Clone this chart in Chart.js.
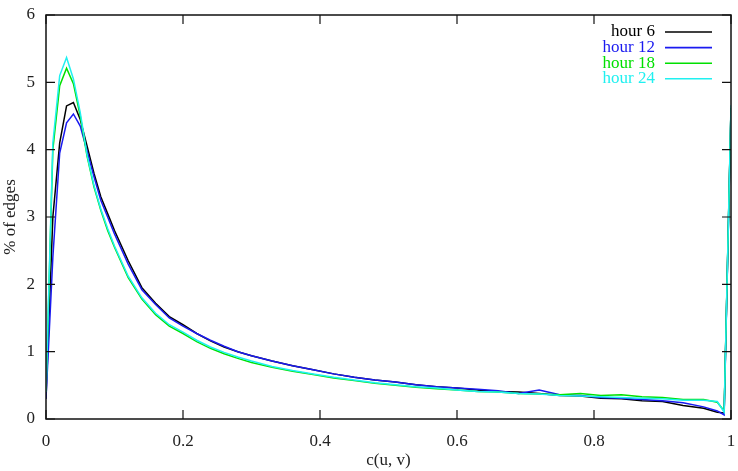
<!DOCTYPE html>
<html>
<head>
<meta charset="utf-8">
<script src="https://cdn.jsdelivr.net/npm/chart.js@4.4.1/dist/chart.umd.min.js"></script>
<style>
  html, body { margin: 0; padding: 0; background: #fff; }
  #wrap { width: 738px; height: 471px; }
</style>
</head>
<body>
<div id="wrap"><canvas id="myChart" width="738" height="471"></canvas></div>
<script>
// c(u, v) sample positions
const cuv = [0, 0.01, 0.02, 0.03, 0.04, 0.05, 0.06, 0.07, 0.08, 0.09, 0.10,
  0.12, 0.14, 0.16, 0.18, 0.20, 0.22, 0.24, 0.26, 0.28, 0.30,
  0.33, 0.36, 0.39, 0.42, 0.45, 0.48, 0.51, 0.54, 0.57, 0.60, 0.63, 0.66, 0.69,
  0.72, 0.75, 0.78, 0.81, 0.84, 0.87, 0.90, 0.93, 0.96, 0.98, 0.99, 1.0];

// % of edges, one array per hour
const hour6 = [0.3, 3.0, 4.1, 4.65, 4.7, 4.45, 4.05, 3.65, 3.3, 3.05, 2.8,
  2.35, 1.95, 1.72, 1.52, 1.4, 1.27, 1.16, 1.07, 1.0, 0.94,
  0.86, 0.79, 0.73, 0.67, 0.62, 0.58, 0.55, 0.51, 0.48, 0.46, 0.43, 0.41, 0.40,
  0.38, 0.35, 0.34, 0.31, 0.30, 0.27, 0.26, 0.20, 0.16, 0.10, 0.09, 4.62];
const hour12 = [0.3, 2.4, 3.95, 4.4, 4.53, 4.35, 3.98, 3.6, 3.25, 3.0, 2.75,
  2.3, 1.92, 1.7, 1.5, 1.38, 1.27, 1.17, 1.08, 1.0, 0.94,
  0.86, 0.79, 0.73, 0.67, 0.62, 0.58, 0.55, 0.51, 0.48, 0.46, 0.44, 0.42, 0.38,
  0.43, 0.36, 0.35, 0.32, 0.31, 0.29, 0.27, 0.24, 0.18, 0.12, 0.06, 4.6];
const hour18 = [0.4, 4.0, 4.95, 5.21, 4.98, 4.5, 3.9, 3.45, 3.1, 2.8, 2.55,
  2.1, 1.78, 1.55, 1.38, 1.27, 1.15, 1.05, 0.97, 0.90, 0.84,
  0.77, 0.71, 0.66, 0.61, 0.57, 0.53, 0.50, 0.47, 0.45, 0.43, 0.41, 0.40, 0.38,
  0.37, 0.36, 0.38, 0.35, 0.36, 0.33, 0.32, 0.29, 0.29, 0.25, 0.12, 4.62];
const hour24 = [0.4, 4.1, 5.1, 5.37, 5.05, 4.55, 3.92, 3.47, 3.12, 2.83, 2.57,
  2.12, 1.8, 1.57, 1.4, 1.29, 1.17, 1.07, 0.99, 0.92, 0.86,
  0.78, 0.72, 0.67, 0.62, 0.58, 0.54, 0.51, 0.48, 0.46, 0.43, 0.41, 0.40, 0.38,
  0.37, 0.35, 0.34, 0.33, 0.32, 0.31, 0.30, 0.28, 0.28, 0.26, 0.10, 4.66];

const seriesNames = ['hour 6', 'hour 12', 'hour 18', 'hour 24'];
const seriesColors = ['#000000', '#1a1af0', '#00e000', '#20f0f0'];
const seriesValues = [hour6, hour12, hour18, hour24];

const FONT = 'Liberation Serif';

// gnuplot-style box with inward ticks on all four sides, plus the key
const gnuplotFrame = {
  id: 'gnuplotFrame',
  afterDraw(chart) {
    const c = chart.ctx;
    const a = chart.chartArea;
    const sx = chart.scales.x, sy = chart.scales.y;
    c.save();
    c.strokeStyle = '#111';
    c.lineWidth = 1.5;
    c.strokeRect(a.left, a.top, a.right - a.left, a.bottom - a.top);
    c.lineWidth = 1.2;
    const len = 9;
    c.beginPath();
    sx.ticks.forEach(t => {
      const px = sx.getPixelForValue(t.value);
      c.moveTo(px, a.bottom); c.lineTo(px, a.bottom - len);
      c.moveTo(px, a.top); c.lineTo(px, a.top + len);
    });
    sy.ticks.forEach(t => {
      const py = sy.getPixelForValue(t.value);
      c.moveTo(a.left, py); c.lineTo(a.left + len, py);
      c.moveTo(a.right, py); c.lineTo(a.right - len, py);
    });
    c.stroke();

    c.font = '17px "' + FONT + '"';
    c.textAlign = 'right';
    c.textBaseline = 'middle';
    const textRight = a.right - 76;
    seriesNames.forEach((name, i) => {
      const y = a.top + 17 + i * 15.6;
      c.fillStyle = seriesColors[i];
      c.fillText(name, textRight, y);
      c.strokeStyle = seriesColors[i];
      c.lineWidth = 1.6;
      c.beginPath();
      c.moveTo(textRight + 10, y);
      c.lineTo(textRight + 57, y);
      c.stroke();
    });
    c.restore();
  }
};

const ctx = document.getElementById('myChart');

new Chart(ctx, {
  type: 'line',
  data: {
    datasets: seriesNames.map((name, i) => ({
      label: name,
      data: cuv.map((x, k) => ({ x: x, y: seriesValues[i][k] })),
      borderColor: seriesColors[i],
      borderWidth: 1.5,
      pointRadius: 0,
      tension: 0,
      fill: false,
      order: 3 - i
    }))
  },
  options: {
    responsive: false,
    animation: false,
    layout: { padding: { top: 15, right: 7, left: 0, bottom: 0 } },
    plugins: {
      legend: { display: false },
      tooltip: { enabled: false }
    },
    scales: {
      x: {
        type: 'linear',
        min: 0,
        max: 1,
        afterFit: s => { s.height = 52; s.paddingLeft = 0; s.paddingRight = 0; },
        grid: { display: false, drawTicks: false },
        border: { display: false },
        ticks: {
          stepSize: 0.2,
          padding: 12,
          color: '#222',
          font: { family: FONT, size: 17 },
          maxRotation: 0,
          callback: v => String(+v.toFixed(1))
        },
        title: {
          display: true,
          text: 'c(u, v)',
          color: '#222',
          font: { family: FONT, size: 17 },
          padding: { top: 0, bottom: 0 }
        }
      },
      y: {
        min: 0,
        max: 6,
        afterFit: s => { s.width = 46; s.paddingTop = 0; s.paddingBottom = 0; },
        grid: { display: false, drawTicks: false },
        border: { display: false },
        ticks: {
          stepSize: 1,
          padding: 11,
          color: '#222',
          font: { family: FONT, size: 17 }
        },
        title: {
          display: true,
          text: '% of edges',
          color: '#222',
          font: { family: FONT, size: 17 },
          padding: { top: 0, bottom: 0 }
        }
      }
    }
  },
  plugins: [gnuplotFrame]
});
</script>
</body>
</html>
